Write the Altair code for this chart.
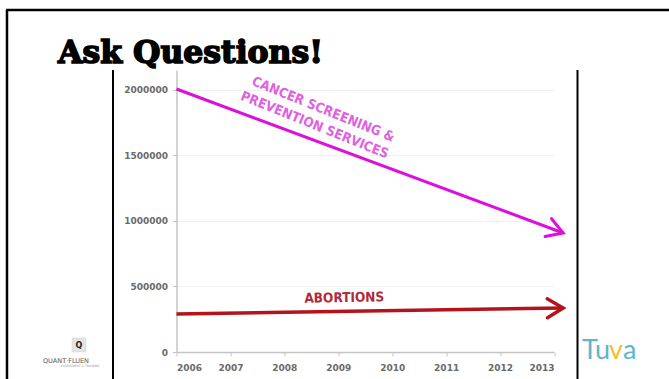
import altair as alt
import pandas as pd

# ---- data ----
title_text = "Ask Questions!"
cancer_years = [2006, 2013.17]
cancer_values = [2007000, 908000]
abortion_years = [2006, 2013.17]
abortion_values = [290000, 336000]

cancer_label_lines = ["CANCER SCREENING &", "PREVENTION SERVICES"]
cancer_label_years = [2008.72, 2008.56]
cancer_label_values = [1850000, 1730000]
abortion_label = ["ABORTIONS"]
abortion_label_years = [2009.11]
abortion_label_values = [412000]

x_ticks = [2006, 2007, 2008, 2009, 2010, 2011, 2012, 2013]
y_ticks = [0, 500000, 1000000, 1500000, 2000000]

logo_left_letter = "Q"
logo_left_name = "QUANT·FLUEN"
logo_left_sub = "ASSESSMENT & TRAINING"
logo_right_parts = ["Tu", "v", "a"]

PINK = "#dc10dc"
PINK_TEXT = "#e060e0"
RED = "#b3141c"
RED_TEXT = "#b02a38"
COND = "'DejaVu Sans Condensed', 'Roboto Condensed', Roboto, sans-serif"

# ---- geometry of plot area (px) ----
W, H = 377.5, 282
PAD = {"left": 176.5, "top": 70, "right": 115, "bottom": 27}

xscale = alt.Scale(domain=[2006, 2013], nice=False, zero=False)
yscale = alt.Scale(domain=[0, 2152000], nice=False)

xaxis = alt.Axis(values=x_ticks, format="d", title=None, grid=False,
                 labelPadding=7, tickSize=4)
yaxis = alt.Axis(values=y_ticks, format="d", title=None, grid=True,
                 labelPadding=5, tickSize=4)

cancer_df = pd.DataFrame({"year": cancer_years, "value": cancer_values})
abort_df = pd.DataFrame({"year": abortion_years, "value": abortion_values})

cancer_line = alt.Chart(cancer_df).mark_line(color=PINK, strokeWidth=3).encode(
    x=alt.X("year:Q", scale=xscale, axis=xaxis),
    y=alt.Y("value:Q", scale=yscale, axis=yaxis),
)
abort_line = alt.Chart(abort_df).mark_line(color=RED, strokeWidth=3.5).encode(
    x=alt.X("year:Q", scale=xscale),
    y=alt.Y("value:Q", scale=yscale),
)

chevron = "M-1,-0.6L0,0L-1,0.6"
cancer_head = alt.Chart(cancer_df.tail(1)).mark_point(
    shape=chevron, size=1000, filled=False, strokeWidth=3, angle=20,
    color=PINK, opacity=1, strokeJoin="miter", strokeCap="round",
).encode(x=alt.X("year:Q", scale=xscale), y=alt.Y("value:Q", scale=yscale))
abort_head = alt.Chart(abort_df.tail(1)).mark_point(
    shape=chevron, size=1000, filled=False, strokeWidth=3.5, angle=359,
    color=RED, opacity=1, strokeJoin="miter", strokeCap="round",
).encode(x=alt.X("year:Q", scale=xscale), y=alt.Y("value:Q", scale=yscale))

cl_df = pd.DataFrame({"year": cancer_label_years, "value": cancer_label_values,
                      "txt": cancer_label_lines})
cancer_text = alt.Chart(cl_df).mark_text(
    font=COND, fontWeight="bold", fontSize=13.5,
    angle=22, color=PINK_TEXT, align="center", baseline="middle",
).encode(x=alt.X("year:Q", scale=xscale), y=alt.Y("value:Q", scale=yscale),
         text="txt:N")

al_df = pd.DataFrame({"year": abortion_label_years, "value": abortion_label_values,
                      "txt": abortion_label})
abort_text = alt.Chart(al_df).mark_text(
    font=COND, fontWeight="bold", fontSize=13.5,
    angle=359, color=RED_TEXT, align="center", baseline="middle",
).encode(x=alt.X("year:Q", scale=xscale), y=alt.Y("value:Q", scale=yscale),
         text="txt:N")

one = pd.DataFrame({"a": [0]})


def vrule(x, y0, y1, w=2.5, c="black"):
    return alt.Chart(one).mark_rule(color=c, strokeWidth=w).encode(
        x=alt.value(x), y=alt.value(y0), y2=alt.value(y1))


def hrule(y, x0, x1, w=2.5, c="black"):
    return alt.Chart(one).mark_rule(color=c, strokeWidth=w).encode(
        y=alt.value(y), x=alt.value(x0), x2=alt.value(x1))


L, T = PAD["left"], PAD["top"]
frame_top = hrule(10 - T, 6 - L, 669 - L)
frame_left = vrule(7 - L, 10 - T, 379 - T)
img_left = vrule(113 - L, 0, 379 - T, w=2)
img_right = vrule(577.5 - L, 0, 379 - T, w=2)

title = alt.Chart(one).mark_text(
    font="DejaVu Serif", fontWeight="bold", fontSize=31.5, align="left",
    baseline="alphabetic", color="black", stroke="black", strokeWidth=1.6,
).encode(x=alt.value(58 - L), y=alt.value(63 - T), text=alt.value(title_text))

q_box = alt.Chart(one).mark_rect(color="#e4e4e4", stroke="#d0d0d0", strokeWidth=0.5).encode(
    x=alt.value(72 - L), x2=alt.value(86 - L), y=alt.value(338 - T), y2=alt.value(352 - T))
q_letter = alt.Chart(one).mark_text(
    font="DejaVu Sans", fontWeight="bold", fontSize=8, color="#222",
    align="center", baseline="middle",
).encode(x=alt.value(79 - L), y=alt.value(345.5 - T), text=alt.value(logo_left_letter))
q_name = alt.Chart(one).mark_text(
    font="DejaVu Sans", fontSize=6.5, color="#555", align="left", baseline="middle",
).encode(x=alt.value(43 - L), y=alt.value(361 - T), text=alt.value(logo_left_name))
q_sub = alt.Chart(one).mark_text(
    font="DejaVu Sans", fontSize=3, color="#999", align="center", baseline="middle",
).encode(x=alt.value(80 - L), y=alt.value(366 - T), text=alt.value(logo_left_sub))

tuva_x = [582, 609, 623]
tuva_c = ["#5db6c9", "#f2c12e", "#5db6c9"]
tuva_layers = []
for part, px, col in zip(logo_right_parts, tuva_x, tuva_c):
    tuva_layers.append(alt.Chart(one).mark_text(
        font="Lato", fontWeight=400, fontSize=27, color=col, align="left",
        baseline="alphabetic",
    ).encode(x=alt.value(px - L), y=alt.value(359 - T), text=alt.value(part)))

chart = alt.layer(
    cancer_line, abort_line, cancer_head, abort_head, cancer_text, abort_text,
    frame_top, frame_left, img_left, img_right, title,
    q_box, q_letter, q_name, q_sub, *tuva_layers,
).properties(
    width=W, height=H,
    autosize=alt.AutoSizeParams(type="none"),
    padding=PAD,
    background="white",
).configure_view(strokeWidth=0).configure_axis(
    labelFont="DejaVu Sans", labelFontWeight="bold", labelFontSize=9,
    labelColor="#6a6a6a", domainColor="#c4c4c4", domainWidth=1.5,
    tickColor="#c4c4c4", tickWidth=1, gridColor="#f1f1f1", gridWidth=1,
)

chart.save("out.html", embed_options={"renderer": "svg", "actions": False})
